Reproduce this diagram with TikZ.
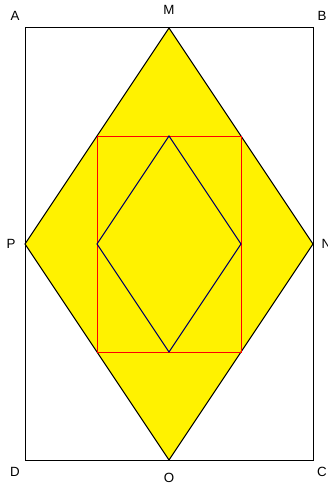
\documentclass[tikz,border=0pt]{standalone}
\usepackage{fontspec}
\setmainfont{Liberation Sans}
\usepackage{tikz}
\usetikzlibrary{positioning}

\begin{document}
\begin{tikzpicture}[x=0.75pt,y=-0.75pt,line width=0.75pt,
    lbl/.style={font=\fontsize{10}{11}\selectfont, inner sep=0pt}]

\useasboundingbox (0,0) rectangle (328,485);
\clip (0,0) rectangle (328,485);

% Corners and midpoints
\coordinate (A) at (25,28);
\coordinate (B) at (313,28);
\coordinate (C) at (313,460);
\coordinate (D) at (25,460);
\coordinate (M) at (169,28);
\coordinate (N) at (313,244);
\coordinate (O) at (169,460);
\coordinate (P) at (25,244);

% Inner points
\coordinate (q1) at (97,136);
\coordinate (q2) at (241,136);
\coordinate (q3) at (241,352);
\coordinate (q4) at (97,352);
\coordinate (r1) at (169,136);
\coordinate (r2) at (241,244);
\coordinate (r3) at (169,352);
\coordinate (r4) at (97,244);

% Outer rectangle
\draw (A) -- (B) -- (C) -- (D) -- cycle;

% Yellow rhombus
\draw[fill=yellow] (M) -- (N) -- (O) -- (P) -- cycle;

% Inner rectangle and rhombus
\draw[red] (q1) -- (q2) -- (q3) -- (q4) -- cycle;
\draw[blue!40!black] (r1) -- (r2) -- (r3) -- (r4) -- cycle;

% Labels
\node[lbl] (la) at (15,16) {A};
\node[lbl] (lm) at (169,10) {M};
\node[lbl] (lb) at (322,16) {B};
\node[lbl] (lp) at (11,244) {P};
\node[lbl, anchor=west] (ln) at (321,244) {N};
\node[lbl] (ld) at (15,472) {D};
\node[lbl] (lo) at (169,478) {O};
\node[lbl] (lc) at (322,472) {C};

\end{tikzpicture}
\end{document}
